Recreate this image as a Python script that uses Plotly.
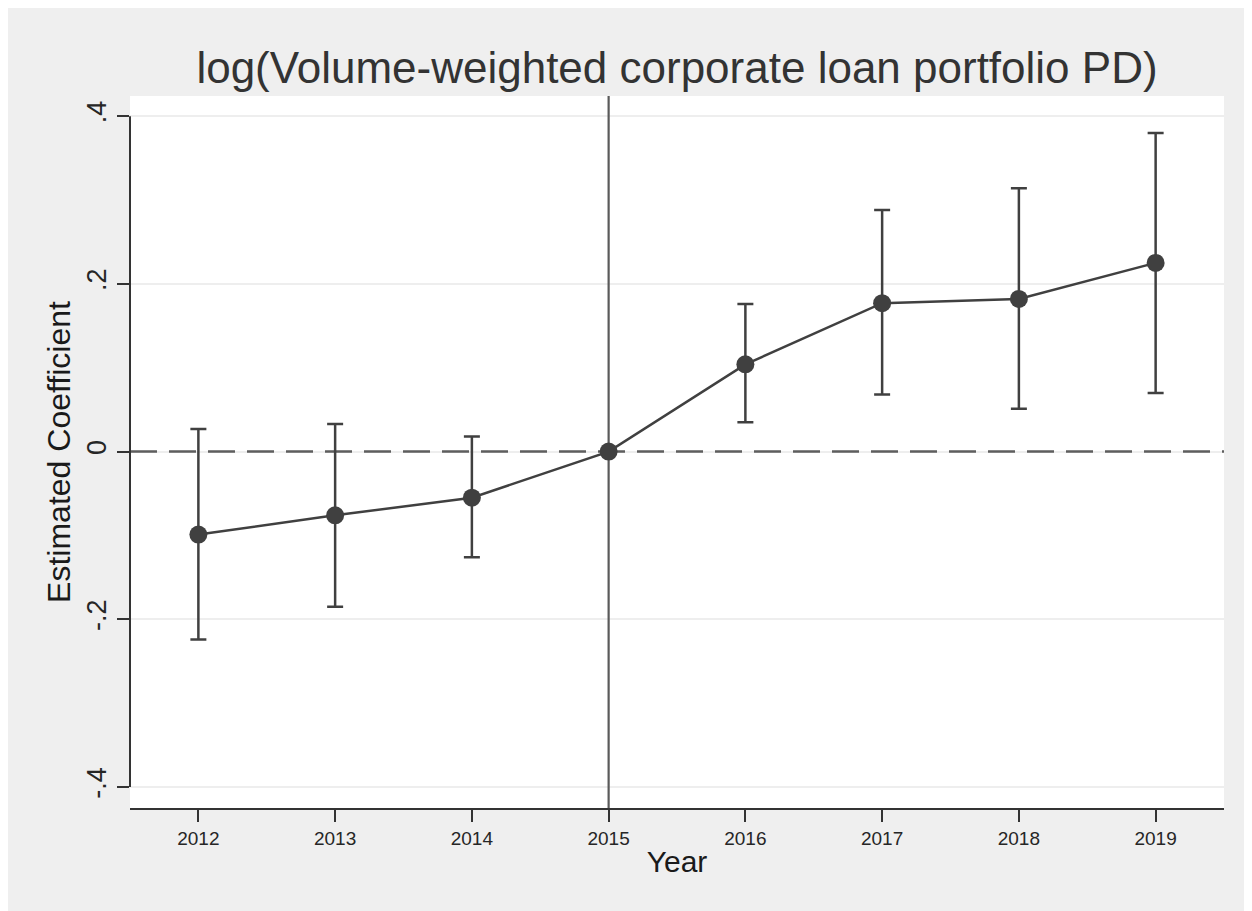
import plotly.graph_objects as go

years = [2012, 2013, 2014, 2015, 2016, 2017, 2018, 2019]
coef = [-0.099, -0.076, -0.055, 0.0, 0.104, 0.177, 0.182, 0.225]
ci_low = [-0.224, -0.185, -0.126, None, 0.035, 0.068, 0.051, 0.070]
ci_high = [0.027, 0.033, 0.018, None, 0.176, 0.288, 0.314, 0.380]
ytick_vals = [-0.4, -0.2, 0.0, 0.2, 0.4]
ytick_text = ["-.4", "-.2", "0", ".2", ".4"]
ref_year = 2015
x_range = [2011.5, 2019.5]
y_range = [-0.425, 0.424]

err_plus = [(h - c) if h is not None else 0 for h, c in zip(ci_high, coef)]
err_minus = [(c - l) if l is not None else 0 for l, c in zip(ci_low, coef)]

# page body adds an 8px margin at top/left
W, H = 1244, 903
ML, MR, MT, MB = 122, 28, 88, 103

DARK = "#404040"
FONT = "Liberation Sans, Arial, sans-serif"

fig = go.Figure()
# reference lines (drawn beneath the estimates)
fig.add_trace(go.Scatter(
    x=x_range, y=[0, 0], mode="lines", hoverinfo="skip", showlegend=False,
    line=dict(color="#5e5e5e", width=2.5, dash="27px,12px"),
))
fig.add_trace(go.Scatter(
    x=[ref_year, ref_year], y=y_range, mode="lines", hoverinfo="skip", showlegend=False,
    line=dict(color="#5a5a5a", width=2.2),
))
fig.add_trace(go.Scatter(
    x=years, y=coef, mode="lines+markers",
    line=dict(color=DARK, width=2.5),
    marker=dict(color=DARK, size=18),
    error_y=dict(type="data", symmetric=False, array=err_plus, arrayminus=err_minus,
                 color=DARK, thickness=2.5, width=8),
    showlegend=False,
))

shapes = [
    dict(type="line", xref="x domain", yref="y", x0=0, x1=0, y0=min(ytick_vals), y1=max(ytick_vals),
         line=dict(color="#333333", width=2)),
]

fig.update_layout(
    width=W, height=H,
    margin=dict(l=ML, r=MR, t=MT, b=MB),
    paper_bgcolor="#efefef", plot_bgcolor="white",
    font=dict(family=FONT, color="#262626"),
    title=dict(text="log(Volume-weighted corporate loan portfolio PD)",
               x=(ML + (W - ML - MR) / 2) / W, xanchor="center", xref="container",
               y=1 - 60 / H, yanchor="middle", yref="container",
               font=dict(size=44, color="#333333")),
    shapes=shapes,
    xaxis=dict(range=x_range, tickvals=years, ticktext=[str(y) for y in years],
               showgrid=False, zeroline=False, showline=True, linecolor="#333333", linewidth=2,
               ticks="outside", ticklen=12, tickwidth=2, tickcolor="#333333",
               tickfont=dict(size=19, color="#262626"),
               title=dict(text="Year", font=dict(size=30, color="#1a1a1a"), standoff=3)),
    yaxis=dict(range=y_range, tickvals=ytick_vals, ticktext=ytick_text,
               showgrid=True, gridcolor="#eeeeee", gridwidth=2, zeroline=False, showline=False,
               ticks="outside", ticklen=12, tickwidth=2, tickcolor="#333333",
               tickangle=-90, tickfont=dict(size=27, color="#262626"),
               title=dict(text="Estimated Coefficient", font=dict(size=32, color="#1a1a1a"), standoff=2)),
)

fig.write_html("out.html")
